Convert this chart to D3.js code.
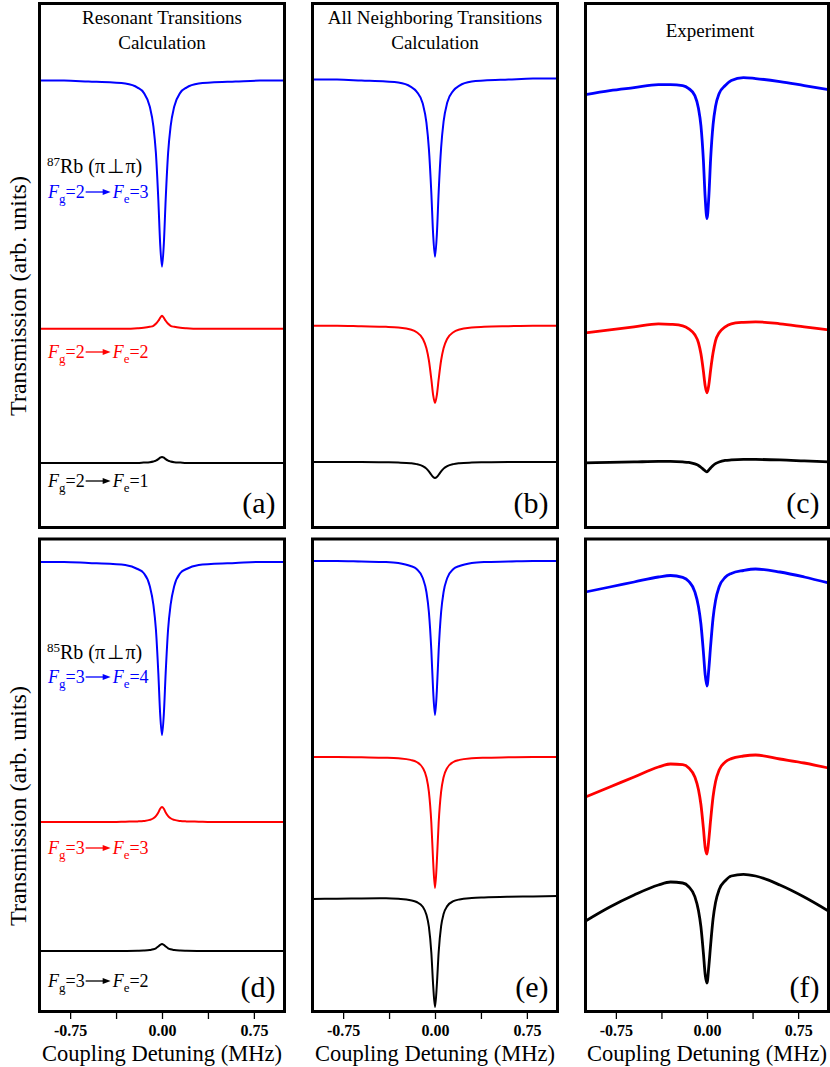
<!DOCTYPE html>
<html><head><meta charset="utf-8">
<script src="https://cdn.jsdelivr.net/npm/d3@7"></script>
<style>
body{margin:0;background:#fff}
svg{display:block}
text{font-family:"Liberation Serif","Times New Roman",Times,serif}
</style>
</head><body>
<svg id="chart" width="830" height="1067"></svg>
<script>
// ---------- DATA ----------
const detuning = [-1,-0.8,-0.6,-0.4,-0.3,-0.2,-0.15,-0.1,-0.07,-0.05,-0.03,-0.015,0,0.015,0.03,0.05,0.07,0.1,0.15,0.2,0.3,0.4,0.6,0.8,1];

// (a) resonant transitions, 87Rb
const aBlue  = [4.47,4.47,4.46,4.45,4.44,4.40,4.35,4.21,4.01,3.75,3.28,2.84,2.61,2.84,3.28,3.75,4.01,4.21,4.35,4.40,4.44,4.45,4.46,4.47,4.47];
const aRed   = [1.99,1.99,1.99,1.99,1.99,1.995,2.00,2.01,2.02,2.04,2.07,2.10,2.12,2.10,2.07,2.04,2.02,2.01,2.00,1.995,1.99,1.99,1.99,1.99,1.99];
const aBlack = [0.65,0.65,0.65,0.65,0.65,0.65,0.654,0.658,0.665,0.673,0.688,0.703,0.71,0.703,0.688,0.673,0.665,0.658,0.654,0.65,0.65,0.65,0.65,0.65,0.65];
// (b) all neighboring transitions, 87Rb
const bBlue  = [4.48,4.48,4.47,4.46,4.45,4.41,4.36,4.24,4.05,3.79,3.35,2.93,2.71,2.93,3.36,3.80,4.06,4.25,4.37,4.42,4.46,4.47,4.48,4.49,4.49];
const bRed   = [2.02,2.02,2.015,2.01,2.003,1.983,1.956,1.891,1.795,1.676,1.487,1.327,1.25,1.327,1.487,1.676,1.795,1.891,1.956,1.983,2.003,2.01,2.016,2.02,2.02];
const bBlack = [0.66,0.66,0.66,0.657,0.654,0.647,0.638,0.618,0.593,0.566,0.532,0.51,0.50,0.51,0.532,0.566,0.593,0.618,0.638,0.647,0.654,0.657,0.66,0.66,0.66];
// (c) experiment, 87Rb
const cBlue  = [4.33,4.37,4.40,4.43,4.43,4.42,4.39,4.32,4.19,4.02,3.68,3.30,3.09,3.31,3.69,4.03,4.21,4.34,4.42,4.47,4.50,4.49,4.46,4.42,4.38];
const cRed   = [1.95,1.98,2.01,2.04,2.035,2.02,1.99,1.93,1.85,1.74,1.57,1.42,1.35,1.43,1.58,1.75,1.87,1.95,2.01,2.04,2.055,2.06,2.04,2.01,1.98];
const cBlack = [0.65,0.655,0.66,0.665,0.665,0.66,0.655,0.64,0.625,0.607,0.585,0.571,0.56,0.58,0.60,0.625,0.643,0.66,0.675,0.68,0.685,0.685,0.68,0.67,0.66];
// (d) resonant transitions, 85Rb
const dBlue  = [4.50,4.50,4.49,4.48,4.47,4.43,4.39,4.26,4.07,3.83,3.39,2.98,2.77,2.98,3.39,3.83,4.07,4.26,4.39,4.43,4.47,4.48,4.49,4.50,4.50];
const dRed   = [1.90,1.90,1.90,1.90,1.903,1.906,1.91,1.921,1.937,1.959,1.996,2.032,2.05,2.032,1.996,1.959,1.937,1.921,1.91,1.906,1.903,1.90,1.90,1.90,1.90];
const dBlack = [0.61,0.61,0.61,0.61,0.611,0.613,0.615,0.62,0.627,0.637,0.655,0.671,0.68,0.671,0.655,0.637,0.627,0.62,0.615,0.613,0.611,0.61,0.61,0.61,0.61];
// (e) all neighboring transitions, 85Rb
const eBlue  = [4.51,4.51,4.505,4.50,4.49,4.46,4.43,4.34,4.20,4.00,3.62,3.21,2.97,3.21,3.62,4.00,4.20,4.34,4.43,4.46,4.49,4.50,4.505,4.51,4.51];
const eRed   = [2.55,2.55,2.547,2.543,2.537,2.521,2.50,2.441,2.347,2.203,1.895,1.502,1.24,1.502,1.895,2.203,2.347,2.441,2.50,2.521,2.537,2.543,2.547,2.55,2.55];
const eBlack = [1.13,1.133,1.136,1.138,1.132,1.118,1.10,1.053,0.972,0.853,0.595,0.265,0.05,0.27,0.60,0.858,0.979,1.059,1.108,1.126,1.139,1.145,1.152,1.156,1.16];
// (f) experiment, 85Rb
const fBlue  = [4.20,4.25,4.30,4.35,4.365,4.346,4.307,4.202,4.053,3.88,3.605,3.372,3.26,3.43,3.665,3.94,4.113,4.252,4.347,4.386,4.415,4.43,4.40,4.35,4.29];
const fRed   = [2.15,2.25,2.35,2.45,2.48,2.474,2.441,2.35,2.223,2.075,1.843,1.645,1.58,1.725,1.923,2.155,2.303,2.42,2.50,2.534,2.56,2.57,2.53,2.49,2.44];
const fBlack = [0.91,1.05,1.17,1.27,1.30,1.29,1.253,1.154,1.013,0.851,0.593,0.375,0.29,0.455,0.673,0.931,1.093,1.224,1.313,1.36,1.377,1.36,1.27,1.15,1.01];

const tickValues = [-0.75,-0.375,0,0.375,0.75];
const labeledTicks = [-0.75,0,0.75];
const columnTitles = [["Resonant Transitions","Calculation"],["All Neighboring Transitions","Calculation"],["Experiment"]];
const panelLetters = ["(a)","(b)","(c)","(d)","(e)","(f)"];
const isotopes = ["87","85"];
const transitionsTop = [["2","3"],["2","2"],["2","1"]];
const transitionsBottom = [["3","4"],["3","3"],["3","2"]];
const xAxisTitle = "Coupling Detuning (MHz)";
const yAxisTitle = "Transmission (arb. units)";
const seriesColors = ["#0000ff","#ff0000","#000000"];

// ---------- LAYOUT ----------
const svg = d3.select("#chart");
const colX = [[39.5,284.5],[312.5,557.5],[585.5,828.5]];
const rowY = [[3.5,527.5],[539,1011.5]];
const yDomains = [[0,5.245],[0,4.73]];

const panels = [
  {col:0,row:0,series:[aBlue,aRed,aBlack],exp:false},
  {col:1,row:0,series:[bBlue,bRed,bBlack],exp:false},
  {col:2,row:0,series:[cBlue,cRed,cBlack],exp:true},
  {col:0,row:1,series:[dBlue,dRed,dBlack],exp:false},
  {col:1,row:1,series:[eBlue,eRed,eBlack],exp:false},
  {col:2,row:1,series:[fBlue,fRed,fBlack],exp:true}
];

const defs = svg.append("defs");

panels.forEach((p,pi)=>{
  const [x0,x1] = colX[p.col];
  const [y0,y1] = rowY[p.row];
  const x = d3.scaleLinear().domain([-1,1]).range([x0,x1]);
  const y = d3.scaleLinear().domain(yDomains[p.row]).range([p.row===0?528:1012, p.row===0?3:539]);
  defs.append("clipPath").attr("id","clip"+pi)
    .append("rect").attr("x",x0).attr("y",y0).attr("width",x1-x0).attr("height",y1-y0);
  const g = svg.append("g");
  const line = d3.line().x((d,i)=>x(detuning[i])).y(d=>y(d)).curve(d3.curveMonotoneX);
  const lg = g.append("g").attr("clip-path","url(#clip"+pi+")");
  p.series.forEach((s,si)=>{
    lg.append("path").datum(s).attr("d",line).attr("fill","none")
      .attr("stroke",seriesColors[si]).attr("stroke-width",p.exp?2.8:2)
      .attr("stroke-linejoin","round");
  });
  g.append("rect").attr("x",x0).attr("y",y0).attr("width",x1-x0).attr("height",y1-y0)
    .attr("fill","none").attr("stroke","#000").attr("stroke-width",3);
  g.append("text").attr("x",x1-9).attr("y",p.row===0?513:997).attr("text-anchor","end")
    .style("font-size","30px").text(panelLetters[pi]);
  if(p.row===1){
    const ax = g.append("g").attr("transform",`translate(0,${y1+1.5})`)
      .call(d3.axisBottom(x).tickValues(tickValues).tickSize(6).tickSizeOuter(0).tickPadding(6)
        .tickFormat(d=>labeledTicks.includes(d)?d.toFixed(2):""));
    ax.select(".domain").remove();
    ax.selectAll(".tick line").attr("stroke-width",1.3);
    ax.selectAll(".tick text").style("font-size","16px").style("font-weight","bold").attr("fill","#000");
    g.append("text").attr("x",(x0+x1)/2).attr("y",1061).attr("text-anchor","middle")
      .style("font-size","22.5px").text(xAxisTitle);
  }
});

// column titles
columnTitles.forEach((t,ci)=>{
  const cx = (colX[ci][0]+colX[ci][1])/2;
  if(t.length===2){
    svg.append("text").attr("x",cx).attr("y",24).attr("text-anchor","middle").style("font-size","19px").text(t[0]);
    svg.append("text").attr("x",cx).attr("y",49).attr("text-anchor","middle").style("font-size","19px").text(t[1]);
  } else {
    svg.append("text").attr("x",cx+3).attr("y",37).attr("text-anchor","middle").style("font-size","19px").text(t[0]);
  }
});

// y-axis titles
[296,806].forEach(cy=>{
  svg.append("text").attr("transform",`translate(26,${cy}) rotate(-90)`).attr("text-anchor","middle")
    .style("font-size","24px").text(yAxisTitle);
});

// isotope labels
function isotopeLabel(x,y,iso){
  const t = svg.append("text").attr("x",x).attr("y",y).style("font-size","20px");
  t.append("tspan").style("font-size","13px").attr("dy",-7).text(iso);
  t.append("tspan").attr("dy",7).text("Rb (\u03c0\u200a\u22a5\u200a\u03c0)");
}
isotopeLabel(47,173,isotopes[0]);
isotopeLabel(47,659,isotopes[1]);

function transLabel(x,y,color,fg,fe){
  const g = svg.append("g").attr("fill",color);
  const t1 = g.append("text").attr("x",x).attr("y",y).style("font-size","18px");
  t1.append("tspan").style("font-style","italic").text("F");
  t1.append("tspan").style("font-size","13px").attr("dy",5).text("g");
  t1.append("tspan").attr("dy",-5).text("="+fg);
  const w = t1.node().getComputedTextLength();
  const a0 = x+w+1, a1 = a0+25, ay = y-6;
  g.append("line").attr("x1",a0).attr("x2",a1-6).attr("y1",ay).attr("y2",ay)
    .attr("stroke",color).attr("stroke-width",1.3);
  g.append("path").attr("d",`M${a1},${ay} L${a1-8},${ay-3} L${a1-8},${ay+3} Z`).attr("fill",color);
  const t2 = g.append("text").attr("x",a1+2).attr("y",y).style("font-size","18px");
  t2.append("tspan").style("font-style","italic").text("F");
  t2.append("tspan").style("font-size","13px").attr("dy",5).text("e");
  t2.append("tspan").attr("dy",-5).text("="+fe);
}
const topY = [198,358,487], botY = [683,854,987];
transitionsTop.forEach((t,i)=>transLabel(48,topY[i],seriesColors[i],t[0],t[1]));
transitionsBottom.forEach((t,i)=>transLabel(48,botY[i],seriesColors[i],t[0],t[1]));
</script>
</body></html>
